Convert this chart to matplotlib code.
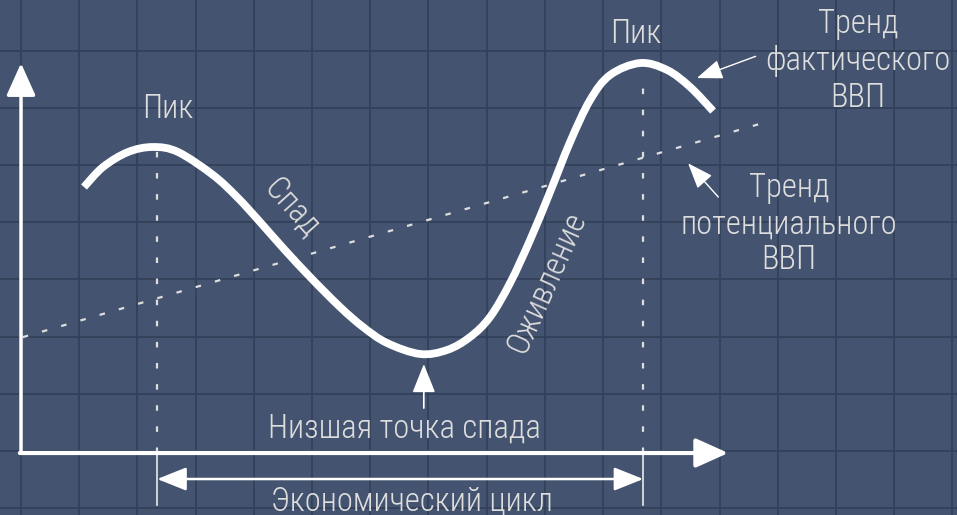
import numpy as np
import matplotlib
matplotlib.use('Agg')
import matplotlib.pyplot as plt
from matplotlib import font_manager
from matplotlib.path import Path
from matplotlib.patches import PathPatch

# Business cycle diagram, values in grid cells (x = time, y = GDP level)
actual_x = [1.082, 1.409, 1.838, 2.268, 2.698, 3.299, 3.711, 4.107,
            4.502, 4.966, 5.481, 5.876, 6.289, 6.856, 7.320, 7.715, 8.058,
            8.402, 8.746, 9.089, 9.433, 9.777, 10.120, 10.636, 11.100,
            11.495, 11.890]
actual_y = [4.615, 4.965, 5.227, 5.315, 5.227, 4.825, 4.441, 4.003,
            3.549, 3.042, 2.517, 2.168, 1.888, 1.696, 1.766, 1.993, 2.343,
            2.937, 3.689, 4.528, 5.402, 6.136, 6.573, 6.783, 6.661,
            6.364, 5.944]

trend_x = [0.03, 12.8]
trend_y = [1.99, 5.75]

peak_x = [2.34, 10.69]
peak_top = [5.24, 6.6]
trough_x = 6.92
trough_y = 1.60

axis_y = -0.035
cycle_y = -0.49

label_actual = ['Тренд', 'фактического', 'ВВП']
label_potential = ['Тренд', 'потенциального', 'ВВП']

BG = '#44536f'
GRID = '#34415b'
FG = '#ffffff'
TXT = '#dedede'

# pick a condensed face if one is installed
fonts = font_manager.fontManager.ttflist
names = {f.name for f in fonts}
stretch = 'normal'
family = 'DejaVu Sans'
for cand in ['Roboto Condensed', 'Liberation Sans Narrow', 'Open Sans Condensed',
             'Noto Sans Condensed']:
    if cand in names:
        family = cand
        break
else:
    if any(f.name == 'DejaVu Sans' and str(f.stretch) in ('condensed', '500')
           for f in fonts):
        stretch = 'condensed'
plt.rcParams['font.family'] = [family, 'DejaVu Sans']

fig = plt.figure(figsize=(9.57, 5.15), dpi=100)
fig.patch.set_facecolor(BG)
ax = fig.add_axes([0, 0, 1, 1])
ax.set_facecolor(BG)
ax.set_xlim(-0.361, 16.08)
ax.set_ylim(-1.119, 7.885)
ax.axis('off')

for gx in range(0, 17):
    ax.axvline(gx, color=GRID, lw=1.3, zorder=0)
for gy in range(-1, 8):
    ax.axhline(gy, color=GRID, lw=1.3, zorder=0)

# axes with arrows
ax.annotate('', xy=(0, 6.78), xytext=(0, axis_y),
            arrowprops=dict(arrowstyle='-|>,head_length=1.0,head_width=0.45',
                            mutation_scale=20, lw=2.5, color=FG,
                            shrinkA=0, shrinkB=0), zorder=5)
ax.annotate('', xy=(12.15, axis_y), xytext=(-0.02, axis_y),
            arrowprops=dict(arrowstyle='-|>,head_length=1.0,head_width=0.45',
                            mutation_scale=20, lw=3.0, color=FG,
                            shrinkA=0, shrinkB=0), zorder=5)

# potential GDP trend
ax.plot(trend_x, trend_y, color=TXT, lw=1.6, dashes=(2.5, 6.5), zorder=2)

# peak markers
for px, pt in zip(peak_x, peak_top):
    ax.plot([px, px], [axis_y, pt], color=TXT, lw=1.6, dashes=(2.5, 7.0), zorder=2)
    ax.plot([px, px], [axis_y, -0.95], color=TXT, lw=1.3, zorder=2)

# actual GDP: smooth Bezier path through the read points
pts = np.column_stack([actual_x, actual_y])
verts = [pts[0]]
codes = [Path.MOVETO]
for i in range(len(pts) - 1):
    p0 = pts[max(i - 1, 0)]
    p1 = pts[i]
    p2 = pts[i + 1]
    p3 = pts[min(i + 2, len(pts) - 1)]
    verts += [p1 + (p2 - p0) / 6, p2 - (p3 - p1) / 6, p2]
    codes += [Path.CURVE4] * 3
ax.add_patch(PathPatch(Path(verts, codes), facecolor='none', edgecolor=FG,
                       lw=5.6, capstyle='butt', zorder=4))

# economic cycle span
ax.annotate('', xy=(peak_x[0], cycle_y), xytext=(peak_x[1], cycle_y),
            arrowprops=dict(arrowstyle='<|-|>,head_length=1.0,head_width=0.4',
                            mutation_scale=18, lw=1.8, color=FG,
                            shrinkA=0, shrinkB=0), zorder=5)

# trough pointer
ax.annotate('', xy=(trough_x, trough_y - 0.08), xytext=(trough_x, 0.75),
            arrowprops=dict(arrowstyle='-|>,head_length=1.0,head_width=0.4',
                            mutation_scale=18, lw=1.2, color=FG,
                            shrinkA=0, shrinkB=0), zorder=5)

fs = 23.5
kw = dict(color=TXT, fontsize=fs, ha='center', va='baseline',
          fontstretch=stretch, fontweight='light')
ax.text(2.526, 5.822, 'Пик', **kw)
ax.text(10.567, 7.133, 'Пик', **kw)
ax.text(6.581, 0.227, 'Низшая точка спада', **kw)
ax.text(6.718, -1.049, 'Экономический цикл', **kw)
rkw = dict(kw, va='center')
ax.text(4.656, 4.248, 'Спад', rotation=-48, **rkw)
ax.text(9.04, 2.95, 'Оживление', rotation=66, **rkw)

for line, yb in zip(label_actual, [7.308, 6.661, 6.014]):
    ax.text(14.381, yb, line, **kw)
ax.annotate('', xy=(11.61, 6.52), xytext=(12.62, 6.9),
            arrowprops=dict(arrowstyle='-|>,head_length=1.0,head_width=0.38',
                            mutation_scale=16, lw=1.0, color=FG,
                            shrinkA=0, shrinkB=0), zorder=5)

for line, yb in zip(label_potential, [4.441, 3.794, 3.182]):
    ax.text(13.196, yb, line, **kw)
ax.annotate('', xy=(11.46, 5.03), xytext=(11.98, 4.44),
            arrowprops=dict(arrowstyle='-|>,head_length=1.0,head_width=0.38',
                            mutation_scale=16, lw=1.0, color=FG,
                            shrinkA=0, shrinkB=0), zorder=5)

fig.savefig('out.png', dpi=100, facecolor=BG)
